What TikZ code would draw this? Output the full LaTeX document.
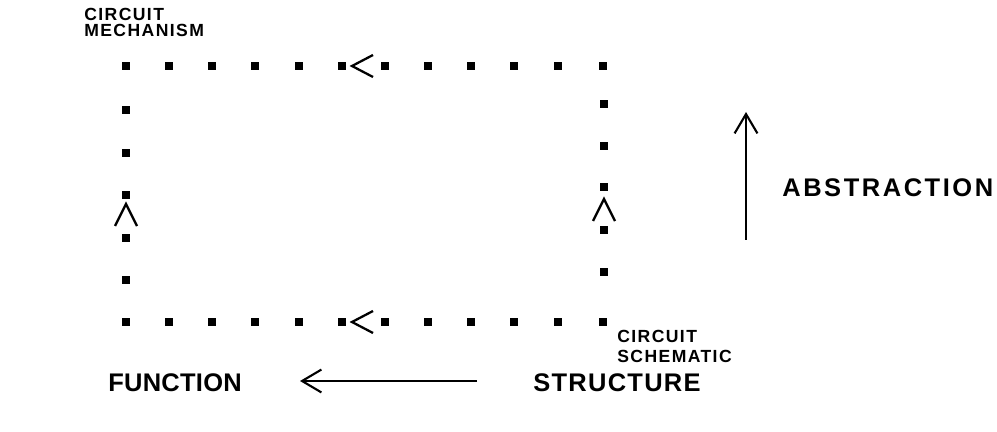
\documentclass[tikz,border=0pt]{standalone}
\usepackage{fontspec}
\setmainfont{Liberation Sans}
\newfontfamily\smallfont{Liberation Sans}[LetterSpace=8]
\newfontfamily\funcfont{Liberation Sans}[LetterSpace=1]
\newfontfamily\structfont{Liberation Sans}[LetterSpace=5]
\newfontfamily\abstrfont{Liberation Sans}[LetterSpace=10]
\usetikzlibrary{arrows.meta}

\begin{document}
\begin{tikzpicture}[x=0.02cm,y=-0.02cm,
    smalllbl/.style={inner sep=0pt, align=left},
    biglbl/.style={inner sep=0pt},
    chev/.style={line width=1.3pt},
    bigarrow/.style={line width=1.2pt, -{Straight Barb[length=11pt,width=13pt]}}]
    \useasboundingbox (0,0) rectangle (997,432);

    % dotted loop
    \foreach \x in {126,169,212,255,299,342,385,428,471,514,558,603}{
        \fill (\x-4,62) rectangle ++(8,8);
        \fill (\x-4,318) rectangle ++(8,8);
    }
    \foreach \y in {110,153,195,238,280}
        \fill (122,\y-4) rectangle ++(8,8);
    \foreach \y in {104,146,187,230,272}
        \fill (600,\y-4) rectangle ++(8,8);

    % direction marks
    \draw[chev] (373,55) -- (352,66) -- (373,77);
    \draw[chev] (373,311) -- (352,322) -- (373,333);
    \draw[chev] (115,226) -- (126,204) -- (137,226);
    \draw[chev] (593,221) -- (604,199) -- (615,221);

    % labels
    \node[smalllbl, font=\smallfont\bfseries\fontsize{10}{9.3}\selectfont,
        anchor=south west] (mechlbl) at (84,37) {CIRCUIT\\MECHANISM};
    \node[smalllbl, font=\smallfont\bfseries\fontsize{10}{11.3}\selectfont,
        anchor=north west] (schemlbl) at (617,330) {CIRCUIT\\SCHEMATIC};

    \node[biglbl, font=\abstrfont\bfseries\fontsize{14.5}{15}\selectfont,
        anchor=west] (abstr) at (782,188) {ABSTRACTION};
    \node[biglbl, font=\funcfont\bfseries\fontsize{14.5}{15}\selectfont,
        anchor=west] (func) at (108,383) {FUNCTION};
    \node[biglbl, font=\structfont\bfseries\fontsize{14.5}{15}\selectfont,
        anchor=west] (struct) at (533,383) {STRUCTURE};

    % axes
    \coordinate (ab1) at (746,240);
    \coordinate (ab2) at (746,112);
    \draw[bigarrow] (ab1) -- (ab2);

    \coordinate (fs1) at (477,381);
    \coordinate (fs2) at (300,381);
    \draw[bigarrow] (fs1) -- (fs2);

\end{tikzpicture}
\end{document}
